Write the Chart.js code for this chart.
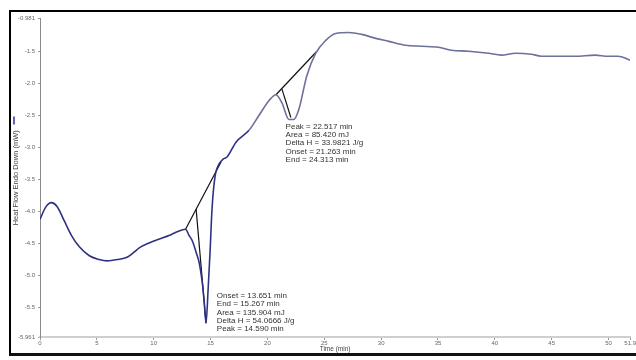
<!DOCTYPE html>
<html>
<head>
<meta charset="utf-8">
<script src="https://cdn.jsdelivr.net/npm/chart.js@4.4.1/dist/chart.umd.min.js"></script>
<style>
html, body { margin:0; padding:0; background:#fff; overflow:hidden; width:636px; height:360px; }
#frame { position:absolute; left:9px; top:10px; width:640px; height:341px;
  border-top:2px solid #000; border-left:2px solid #000; border-bottom:3px solid #111; }
#wrap { position:absolute; left:0; top:0; width:625px; height:341px; }
</style>
</head>
<body>
<div id="frame"><div id="wrap"><canvas id="dsc"></canvas></div></div>
<script>
// DSC curve (time in min, heat flow in mW)
const timeMin = [0, 0.5, 1.0, 1.5, 2.15, 2.76, 3.46, 4.34, 5.2, 5.9, 6.8, 7.7, 8.3, 8.7, 9.6, 10.5, 11.4, 12.0, 12.8,
  13.1, 13.4, 13.7, 14.0, 14.25, 14.43, 14.6, 14.78, 14.96, 15.13, 15.39, 15.75, 16.1, 16.45, 17.24, 18.38, 19.25, 20.13, 20.75,
  21.27, 21.89, 22.32, 22.76, 23.46, 24.25, 25.13, 26.0, 27.15, 28.29, 29.52, 30.66, 32.15, 33.55, 35.04, 36.18, 37.68,
  39.43, 40.57, 41.8, 43.2, 44.08, 45.31, 47.06, 48.82, 49.96, 50.83, 51.9];
const heatFlow = [-4.12, -3.93, -3.86, -3.92, -4.15, -4.37, -4.55, -4.69, -4.75, -4.77, -4.75, -4.71, -4.63, -4.57, -4.49, -4.43, -4.37, -4.32, -4.275,
  -4.37, -4.46, -4.62, -4.80, -5.08, -5.39, -5.744, -5.23, -4.61, -3.95, -3.455, -3.254, -3.18, -3.146, -2.914, -2.729, -2.497, -2.265, -2.172,
  -2.296, -2.558, -2.558, -2.404, -1.878, -1.522, -1.321, -1.213, -1.198, -1.228, -1.290, -1.337, -1.399, -1.414, -1.430, -1.476, -1.491,
  -1.522, -1.553, -1.522, -1.538, -1.569, -1.569, -1.569, -1.553, -1.569, -1.569, -1.631];

// integration baselines and onset-to-peak lines
const base1Time = [12.8, 15.92];
const base1Flow = [-4.275, -3.224];
const drop1Time = [13.73, 14.6];
const drop1Flow = [-3.962, -5.744];
const base2Time = [20.75, 24.31];
const base2Flow = [-2.172, -1.50];
const drop2Time = [21.27, 22.06];
const drop2Flow = [-2.08, -2.528];

// peak result texts and their anchor (time, heat flow of first line)
const peak1Text = ['Onset = 13.651 min', 'End = 15.267 min', '', 'Area = 135.904 mJ', 'Delta H = 54.0666 J/g', 'Peak = 14.590 min'];
const peak1Anchor = [15.55, -5.31];
const peak2Text = ['Peak = 22.517 min', 'Area = 85.420 mJ', 'Delta H = 33.9821 J/g', '', 'Onset = 21.263 min', 'End = 24.313 min'];
const peak2Anchor = [21.6, -2.68];

const xTicks = [0, 5, 10, 15, 20, 25, 30, 35, 40, 45, 50];
const xMax = 51.9;
const yTicks = [-1.5, -2.0, -2.5, -3.0, -3.5, -4.0, -4.5, -5.0, -5.5];
const yMin = -5.961;
const yMax = -0.981;

function pairs(xs, ys) {
  return xs.map((x, i) => ({ x: x, y: ys[i] }));
}

const lineStyle = { borderColor: '#111', borderWidth: 1.2, pointRadius: 0, fill: false, tension: 0 };

const textPlugin = {
  id: 'peakText',
  afterDatasetsDraw(chart) {
    const ctx = chart.ctx;
    const xs = chart.scales.x, ys = chart.scales.y;
    ctx.save();
    ctx.font = '8px "Liberation Sans", Arial, sans-serif';
    ctx.fillStyle = '#333';
    ctx.textBaseline = 'middle';
    [[peak1Text, peak1Anchor], [peak2Text, peak2Anchor]].forEach(([lines, a]) => {
      const px = xs.getPixelForValue(a[0]);
      let py = ys.getPixelForValue(a[1]);
      lines.forEach(t => {
        if (t === '') { py += 1; return; }
        ctx.fillText(t, px, py);
        py += 8;
      });
    });
    // little blue marker next to the y title
    ctx.strokeStyle = '#2b2f9a';
    ctx.lineWidth = 1.5;
    ctx.beginPath();
    ctx.moveTo(3, chart.chartArea.top + 98);
    ctx.lineTo(3, chart.chartArea.top + 106);
    ctx.stroke();
    ctx.restore();
  }
};

new Chart(document.getElementById('dsc'), {
  type: 'line',
  data: {
    datasets: [
      {
        data: pairs(timeMin, heatFlow),
        borderColor: '#3b3e8c',
        borderWidth: 1.6,
        pointRadius: 0,
        cubicInterpolationMode: 'monotone',
        segment: {
          borderColor: c => c.p0.parsed.x > 18 ? '#6d7099' : '#2f3282'
        }
      },
      Object.assign({ data: pairs(base1Time, base1Flow) }, lineStyle),
      Object.assign({ data: pairs(drop1Time, drop1Flow) }, lineStyle),
      Object.assign({ data: pairs(base2Time, base2Flow) }, lineStyle),
      Object.assign({ data: pairs(drop2Time, drop2Flow) }, lineStyle)
    ]
  },
  options: {
    responsive: true,
    maintainAspectRatio: false,
    animation: false,
    layout: { padding: { top: 3, right: 3, left: 0, bottom: 0 } },
    plugins: { legend: { display: false }, tooltip: { enabled: false } },
    scales: {
      x: {
        type: 'linear',
        min: 0,
        max: xMax,
        afterBuildTicks: s => { s.ticks = xTicks.concat([xMax]).map(v => ({ value: v })); },
        afterFit: s => { s.height = 16; },
        ticks: {
          padding: 0,
          maxRotation: 0,
          autoSkip: false,
          color: '#666',
          font: { size: 6, family: 'Liberation Sans' },
          callback: v => v === xMax ? xMax.toFixed(1) : String(v)
        },
        grid: { drawOnChartArea: false, tickLength: 3, color: '#999' },
        border: { color: '#cfcfcf', width: 2 },
        title: { display: true, text: 'Time (min)', color: '#444', padding: 0, font: { size: 6.5, family: 'Liberation Sans' } }
      },
      y: {
        type: 'linear',
        min: yMin,
        max: yMax,
        afterBuildTicks: s => { s.ticks = [yMin].concat(yTicks, [yMax]).map(v => ({ value: v })); },
        afterFit: s => { s.width = 29; },
        ticks: {
          padding: 3,
          autoSkip: false,
          color: '#666',
          font: { size: 6, family: 'Liberation Sans' },
          callback: v => (v === yMin || v === yMax) ? v.toFixed(3) : v.toFixed(1)
        },
        grid: { drawOnChartArea: false, tickLength: 2, color: '#999' },
        border: { color: '#8a8a8a', width: 1 },
        title: { display: true, text: 'Heat Flow Endo Down (mW)', color: '#444', padding: 0, font: { size: 7.5, family: 'Liberation Sans' } }
      }
    }
  },
  plugins: [textPlugin]
});
</script>
</body>
</html>
